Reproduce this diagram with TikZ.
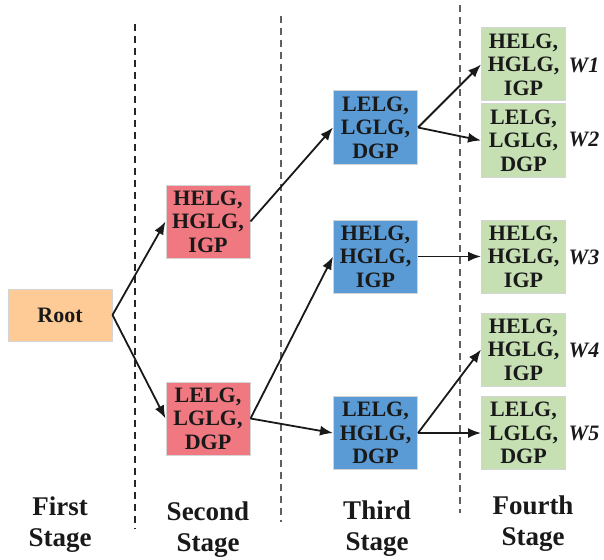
\documentclass[tikz,border=0pt]{standalone}
\usepackage{fontspec}
\setmainfont{Liberation Serif}[BoldFont={Liberation Serif Bold},BoldItalicFont={Liberation Serif Bold Italic}]
\usetikzlibrary{arrows.meta}
\definecolor{rootc}{HTML}{FECB96}
\definecolor{redc}{HTML}{F07880}
\definecolor{bluec}{HTML}{5B9BD5}
\definecolor{greenc}{HTML}{C6E0B4}
\definecolor{edgec}{HTML}{D4D4D4}
\definecolor{dashc}{HTML}{606060}
\tikzset{
  box/.style={draw=edgec, line width=1pt, minimum width=84pt, minimum height=73pt, inner sep=0pt, align=center, text=black!90,
    font=\bfseries\fontsize{22}{23.5}\selectfont},
  rootbox/.style={box, fill=rootc, minimum width=104pt, minimum height=52pt},
  redbox/.style={box, fill=redc},
  bluebox/.style={box, fill=bluec},
  greenbox/.style={box, fill=greenc},
  wlabel/.style={font=\bfseries\itshape\fontsize{22}{24}\selectfont, text=black!90},
  stagelabel/.style={align=center, font=\bfseries\fontsize{27}{31}\selectfont, text=black!90},
  sep/.style={dashed, dash pattern=on 7pt off 5pt, line width=1.3pt},
  conn/.style={line width=1.8pt, draw=black!90, -{Latex[length=13pt,width=10pt]}}
}
\begin{document}
\begin{tikzpicture}[x=1pt,y=-1pt]
\useasboundingbox (0,0) rectangle (604,559);
% separators
\draw[sep, black!85] (135,24) -- (135,529);
\draw[sep, dashc] (281,16) -- (281,522);
\draw[sep, dashc] (460,5) -- (460,513);
% nodes
\node[rootbox] (root) at (60,315) {Root};
\node[redbox] (s2a) at (208,221.5) {HELG,\\HGLG,\\IGP};
\node[redbox] (s2b) at (208,418.5) {LELG,\\LGLG,\\DGP};
\node[bluebox] (s3a) at (375.5,127.5) {LELG,\\LGLG,\\DGP};
\node[bluebox] (s3b) at (375.5,256.5) {HELG,\\HGLG,\\IGP};
\node[bluebox] (s3c) at (375.5,433) {LELG,\\HGLG,\\DGP};
\node[greenbox] (w1) at (523.5,64.5) {HELG,\\HGLG,\\IGP};
\node[greenbox] (w2) at (523.5,140.5) {LELG,\\LGLG,\\DGP};
\node[greenbox] (w3) at (523.5,256.5) {HELG,\\HGLG,\\IGP};
\node[greenbox] (w4) at (523.5,349.5) {HELG,\\HGLG,\\IGP};
\node[greenbox] (w5) at (523.5,433) {LELG,\\LGLG,\\DGP};
\node[wlabel] (l1) at (584,65) {W1};
\node[wlabel] (l2) at (584,139) {W2};
\node[wlabel] (l3) at (584,257) {W3};
\node[wlabel] (l4) at (584,350) {W4};
\node[wlabel] (l5) at (584,433) {W5};
% stage labels
\node[stagelabel] (t1) at (60,525) {First\\Stage};
\node[stagelabel] (t2) at (208,530) {Second\\Stage};
\node[stagelabel] (t3) at (377,529) {Third\\Stage};
\node[stagelabel] (t4) at (533,524) {Fourth\\Stage};
% connectors
\draw[conn] (root.east) -- (s2a.west);
\draw[conn] (root.east) -- (s2b.west);
\draw[conn] (s2a.east) -- (s3a.west);
\draw[conn] (s2b.east) -- (s3b.west);
\draw[conn] (s2b.east) -- (s3c.west);
\draw[conn] (s3a.east) -- (w1.west);
\draw[conn] (s3a.east) -- (w2.west);
\draw[conn] (s3b.east) -- (w3.west);
\draw[conn] (s3c.east) -- (w4.west);
\draw[conn] (s3c.east) -- (w5.west);
\end{tikzpicture}
\end{document}
